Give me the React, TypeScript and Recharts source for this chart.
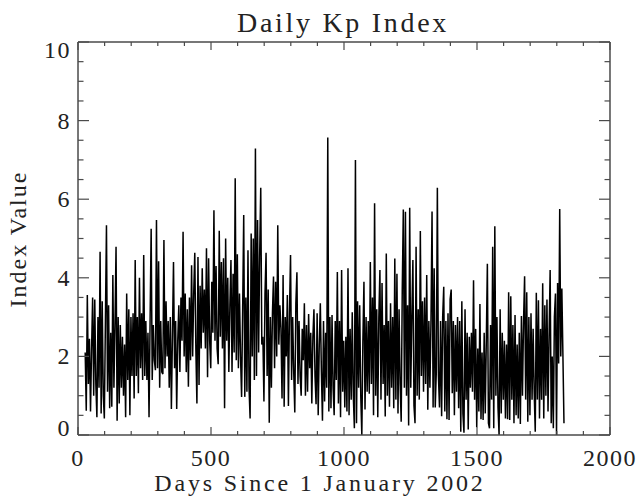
import { LineChart, Line, XAxis, YAxis } from "recharts";

// daily Kp, one reading every 4 days from day 27, 100 days per row
const kp027 = [2.1,0.62,3.56,1.3,2.45,0.6,2.2,3.5,1.0,3.45,1.3,0.45,3.0,1.2,4.66,0.55,3.4,1.0,0.42,2.9,5.34,1.1,3.3,0.68,2.6];
const kp127 = [0.72,4.07,1.2,2.8,4.79,0.36,3.0,0.8,2.8,1.2,2.5,1.0,2.3,0.45,3.6,1.4,3.2,0.5,3.0,1.5,3.1,0.93,4.45,1.5,3.0];
const kp227 = [1.06,4.0,1.7,3.1,1.4,4.58,1.5,2.9,1.4,2.6,0.45,2.9,5.25,1.4,2.8,1.9,1.65,5.47,1.7,4.42,1.2,2.9,1.6,1.55,4.96];
const kp327 = [1.7,3.4,2.0,2.9,1.2,3.0,0.66,2.5,4.4,1.7,2.9,0.66,2.4,3.3,1.6,3.5,2.4,5.17,2.0,3.6,1.6,3.2,1.23,3.5,1.9];
const kp427 = [4.32,2.0,3.6,4.64,2.2,0.8,4.53,1.27,3.8,2.2,4.24,2.6,3.7,2.2,4.75,1.47,4.5,2.4,1.7,3.9,2.6,5.72,2.4,4.3,2.2];
const kp527 = [1.8,5.2,2.5,4.4,2.2,4.5,0.68,5.0,2.4,4.0,1.6,3.3,4.45,1.6,4.1,2.1,6.53,1.9,4.6,1.7,3.6,2.0,0.97,3.2,5.6];
const kp627 = [0.97,3.5,1.1,4.7,1.2,0.42,5.13,2.0,5.0,1.4,7.29,1.5,5.47,2.1,4.6,6.29,2.3,2.5,0.85,3.6,4.64,1.5,3.7,0.31,3.0];
const kp727 = [1.2,3.1,4.03,1.7,3.9,2.0,5.34,2.3,3.3,2.7,0.93,4.07,0.72,3.0,2.0,3.56,0.74,3.1,4.58,1.4,3.0,1.6,0.57,3.35,4.14];
const kp827 = [1.3,2.9,1.5,1.0,2.7,1.9,3.35,1.0,2.8,1.1,3.08,1.7,2.6,0.8,2.5,3.2,1.5,0.78,3.1,0.5,2.3,3.35,1.6,0.36,2.9];
const kp927 = [0.85,2.6,1.2,7.57,0.6,3.0,0.68,3.05,1.2,0.5,2.9,1.4,4.15,0.8,2.9,0.45,4.2,1.1,2.4,0.7,2.5,0.6,4.24,0.5,2.7];
const kp1027 = [0.9,3.12,1.0,0.17,7.0,0.3,3.4,1.2,3.3,1.0,0.0,2.4,3.9,0.65,3.0,1.1,2.9,1.05,4.4,1.3,3.5,0.5,5.9,1.0,3.2];
const kp1127 = [0.45,3.0,4.2,0.9,3.87,1.3,2.8,0.47,4.62,1.0,2.9,0.72,3.35,1.2,3.0,0.68,4.49,0.9,4.1,0.55,3.2,1.3,0.34,3.68,5.74];
const kp1227 = [1.2,5.68,1.0,3.3,0.24,5.78,1.2,3.0,4.45,0.75,0.3,4.79,1.0,3.2,0.9,5.19,1.5,3.4,1.1,3.5,1.3,4.07,0.64,2.9,1.2];
const kp1327 = [2.9,5.69,0.7,4.24,0.7,1.6,6.29,1.5,0.7,2.9,0.48,3.0,3.77,0.6,2.9,0.4,3.1,0.38,3.45,3.7,1.06,2.9,0.5,2.8,1.1];
const kp1427 = [3.0,0.68,2.9,0.08,3.4,0.55,0.06,3.2,0.9,2.6,0.14,2.5,1.2,2.6,1.1,3.94,0.9,2.7,0.2,2.2,0.6,3.33,0.4,2.1,0.38];
const kp1527 = [2.6,0.55,2.4,4.36,0.3,0.17,2.8,0.9,4.79,0.17,5.31,1.0,3.0,0.7,0.0,3.2,0.55,2.6,0.9,2.4,0.42,2.3,0.4,3.63,0.38];
const kp1627 = [3.53,0.9,2.8,0.3,3.05,0.5,2.3,0.42,2.6,0.28,3.03,1.0,2.9,4.04,0.9,3.63,0.34,3.0,0.5,3.1,0.9,2.7,1.1,0.08,3.62];
const kp1727 = [0.9,3.43,0.42,2.7,0.9,3.86,0.42,3.3,1.0,3.45,0.6,2.5,4.2,0.3,2.0,0.17,3.0,3.6,0.0,3.87,1.82,5.75,2.0,3.73,2.03,0.3];

const kpValues = [
  ...kp027, ...kp127, ...kp227, ...kp327, ...kp427, ...kp527,
  ...kp627, ...kp727, ...kp827, ...kp927, ...kp1027, ...kp1127,
  ...kp1227, ...kp1327, ...kp1427, ...kp1527, ...kp1627, ...kp1727,
];
const data = kpValues.map((kp, i) => ({ day: 27 + i * 4, kp }));

const xMajor = [0, 500, 1000, 1500, 2000];
const xTicks = [0, 100, 200, 300, 400, 500, 600, 700, 800, 900, 1000, 1100, 1200, 1300, 1400, 1500, 1600, 1700, 1800, 1900, 2000];
const yMajor = [0, 2, 4, 6, 8, 10];
const yTicks = [0, 0.5, 1, 1.5, 2, 2.5, 3, 3.5, 4, 4.5, 5, 5.5, 6, 6.5, 7, 7.5, 8, 8.5, 9, 9.5, 10];

const AXIS = "#4a4a4a";
const TEXT = "#222";
const FONT = "'Liberation Serif', serif";
const labelStyle = { fontFamily: FONT, fontSize: 24, fill: TEXT, letterSpacing: 1.5 };
const frameLine = { stroke: AXIS, strokeWidth: 1.5 };
const THIN = 0.01; // recharts skips an axis of size 0, and these must not push the plot
const PLOT_W = 532;
const PLOT_H = 393;

// inward ticks on both edges of the frame, like the IDL original
function XTick({ x, y, payload }: any) {
  const major = xMajor.includes(payload.value);
  const len = major ? 8 : 4;
  return (
    <g>
      <line x1={x} x2={x} y1={y} y2={y - len} stroke={AXIS} strokeWidth={1.2} />
      <line x1={x} x2={x} y1={y - PLOT_H} y2={y - PLOT_H + len} stroke={AXIS} strokeWidth={1.2} />
      {major && (
        <text x={x} y={y + 31} textAnchor="middle" style={labelStyle}>
          {payload.value}
        </text>
      )}
    </g>
  );
}

function YTick({ x, y, payload }: any) {
  const major = yMajor.includes(payload.value);
  const len = major ? 11 : 5.5;
  // the end labels sit inside the frame in the reference
  const shift = payload.value === 10 ? 8 : payload.value === 0 ? -7 : 0;
  return (
    <g>
      <line x1={x} x2={x + len} y1={y} y2={y} stroke={AXIS} strokeWidth={1.2} />
      <line x1={x + PLOT_W} x2={x + PLOT_W - len} y1={y} y2={y} stroke={AXIS} strokeWidth={1.2} />
      {major && (
        <text x={x - 7} y={y + shift + 8} textAnchor="end" style={labelStyle}>
          {payload.value}
        </text>
      )}
    </g>
  );
}

export default function App() {
  const xDomain: [number, number] = [0, 2000];
  const yDomain: [number, number] = [0, 10];

  return (
    <div style={{ position: "absolute", left: 0, top: 0 }}>
      <LineChart
        width={639}
        height={499}
        data={data}
        margin={{ top: 42, right: 29, bottom: 64, left: 78 }}
      >
        <XAxis
          xAxisId="x"
          type="number"
          dataKey="day"
          domain={xDomain}
          ticks={xTicks}
          interval={0}
          height={THIN}
          tickSize={0}
          tickMargin={0}
          tickLine={false}
          axisLine={frameLine}
          tick={XTick}
        />
        <YAxis
          yAxisId="y"
          type="number"
          domain={yDomain}
          ticks={yTicks}
          interval={0}
          width={THIN}
          tickSize={0}
          tickMargin={0}
          tickLine={false}
          axisLine={frameLine}
          tick={YTick}
        />
        <XAxis
          xAxisId="top"
          orientation="top"
          type="number"
          domain={xDomain}
          height={THIN}
          tick={false}
          tickLine={false}
          axisLine={frameLine}
        />
        <YAxis
          yAxisId="right"
          orientation="right"
          type="number"
          domain={yDomain}
          width={THIN}
          tick={false}
          tickLine={false}
          axisLine={frameLine}
        />
        <Line
          xAxisId="x"
          yAxisId="y"
          dataKey="kp"
          stroke="#000"
          strokeWidth={1.5}
          dot={false}
          isAnimationActive={false}
        />
        <text x={343} y={32} textAnchor="middle" style={{ ...labelStyle, fontSize: 28, letterSpacing: 2.7 }}>
          Daily Kp Index
        </text>
        <text x={320} y={491} textAnchor="middle" style={{ ...labelStyle, letterSpacing: 2.8 }}>
          Days Since 1 January 2002
        </text>
        <text
          x={26}
          y={239}
          textAnchor="middle"
          transform="rotate(-90 26 239)"
          style={{ ...labelStyle, letterSpacing: 2 }}
        >
          Index Value
        </text>
      </LineChart>
    </div>
  );
}
